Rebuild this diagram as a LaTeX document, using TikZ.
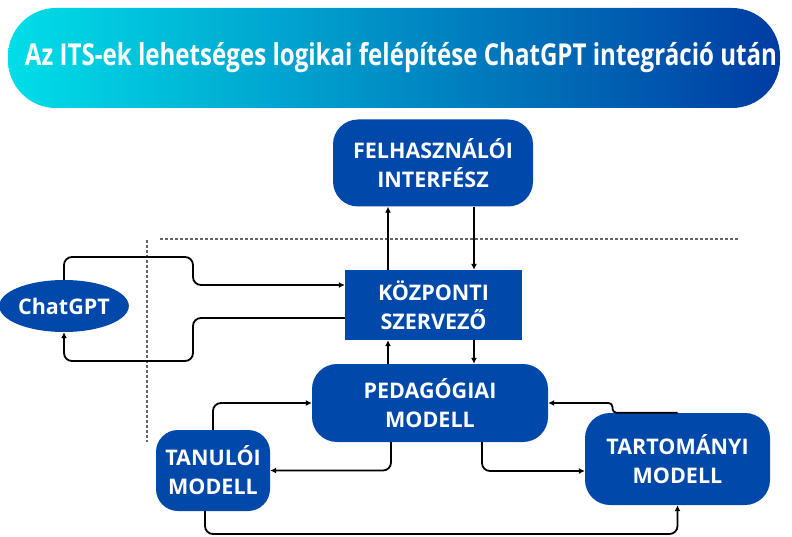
\documentclass[tikz,border=0pt]{standalone}
\usepackage{fontspec}
\usepackage{graphicx}
\setmainfont{Open Sans}
\newfontfamily\titlefont[FakeStretch=0.8]{Open Sans}
\usepackage{tikz}
\usetikzlibrary{positioning,
				arrows.meta,
				shapes.geometric,
				calc}

\definecolor{itsblue}{RGB}{0,72,170}
\definecolor{bannerleft}{RGB}{0,222,232}
\definecolor{bannerright}{RGB}{0,60,162}

\tikzset{
	modul/.style={fill=itsblue, text=white, align=center, font=\bfseries\fontsize{21.5}{29}\selectfont, inner sep=0pt},
	link/.style={line width=1.8pt, rounded corners=8, -{Latex[length=6pt,width=6pt]}},
	sep/.style={gray!80!black, line width=1.2pt, dash pattern=on 3pt off 2pt}
}

\begin{document}
\begin{tikzpicture}[x=1pt,y=-1pt]
		\useasboundingbox (0,0) rectangle (792,537);
		% cimsor
		\shade[left color=bannerleft, right color=bannerright, rounded corners=48] (8,8) rectangle (780,108);
		\node[text=white] (cim) at (401,58) {\resizebox{752pt}{!}{\titlefont\bfseries\fontsize{28}{28}\selectfont Az ITS-ek lehetséges logikai felépítése ChatGPT integráció után}};
		% elvalaszto vonalak
		\draw[sep] (160,239) -- (738,239);
		\draw[sep] (147,240) -- (147,442);
		% modulok
		\node[modul, rounded corners=25, minimum width=200, minimum height=87] (felh) at (433,163) {FELHASZNÁLÓI\\INTERFÉSZ};
		\node[modul, minimum width=177, minimum height=70] (kozp) at (433.5,305) {KÖZPONTI\\SZERVEZŐ};
		\node[modul, rounded corners=25, minimum width=236, minimum height=78] (ped) at (430,403) {PEDAGÓGIAI\\MODELL};
		\node[modul, rounded corners=22, minimum width=114, minimum height=81] (tanul) at (213,470.5) {TANULÓI\\MODELL};
		\node[modul, rounded corners=25, minimum width=185, minimum height=92] (tart) at (677.5,459) {TARTOMÁNYI\\MODELL};
		\node[modul, ellipse, minimum width=118, minimum height=52] (chat) at (64,306) {ChatGPT};
		% segedpontok
		\coordinate (cl) at (388,0);
		\coordinate (cr) at (474,0);
		\coordinate (pl) at (391,0);
		\coordinate (pr) at (482,0);
		\coordinate (gu) at (193,257);
		\coordinate (gd) at (193,361);
		\coordinate (bl) at (205,534);
		% kapcsolatok
		\draw[link] (cl |- kozp.north) -- (cl |- felh.south);
		\draw[link] (cr |- felh.south) -- (cr |- kozp.north);
		\draw[link] (cl |- ped.north) -- (cl |- kozp.south);
		\draw[link] (cr |- kozp.south) -- (cr |- ped.north);
		\draw[link] (chat.north) |- (gu) |- ([yshift=20]kozp.west);
		\draw[link] ([yshift=-13]kozp.west) -| (gd) -| (chat.south);
		\draw[link] (tanul.north) |- (ped.west);
		\draw[link] (pl |- ped.south) |- (tanul.east);
		\draw[link] (pr |- ped.south) |- ([yshift=-12]tart.west);
		\draw[link, rounded corners=4] (tart.north) -- ([xshift=-65]tart.north) |- (ped.east);
		\draw[link] (bl |- tanul.south) -- (bl) -| (tart.south);
	\end{tikzpicture}
\end{document}
